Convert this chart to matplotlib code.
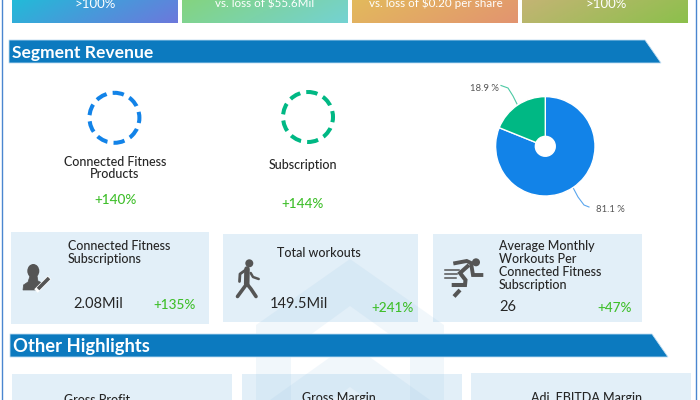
import numpy as np
import matplotlib
matplotlib.use("Agg")
import matplotlib.pyplot as plt
from matplotlib.patches import Polygon, Rectangle, Circle, Ellipse

plt.rcParams['font.family'] = ['Lato', 'DejaVu Sans']

segment_names = ["Connected Fitness Products", "Subscription"]
segment_share = [81.1, 18.9]
segment_colors = ["#1283E8", "#00B884"]
segment_labels = ["81.1 %", "18.9 %"]
top_card_text = [">100%", "vs. loss of $55.6Mil", "vs. loss of $0.20 per share", ">100%"]
top_card_colors = [("#22BBD8", "#6C78DC"), ("#84D47F", "#74D2D2"),
                   ("#E2BA5C", "#E39470"), ("#C4B474", "#8CC04C")]

INK = "#262626"; GREEN = "#3FBF2B"; BAND = "#0C7ABF"; CARD = "#E2EFF8"
PCT = 9.8

fig = plt.figure(figsize=(7, 4), dpi=100)
ax = fig.add_axes([0, 0, 1, 1])
ax.set_xlim(0, 700); ax.set_ylim(400, 0); ax.axis('off')

# frame
ax.plot([1.5, 1.5], [0, 400], color="#4A86D0", lw=1)
ax.plot([696, 696], [0, 400], color="#4A86D0", lw=1)

# top gradient cards
top_boxes = [(12, 177.5), (182, 348), (352, 518), (522, 688)]
top_text_x = [95, 265, 435.5, 606]
for (x0, x1), (c0, c1), txt, tx in zip(top_boxes, top_card_colors, top_card_text, top_text_x):
    n = 80
    u, v = np.meshgrid(np.linspace(0, 1, n), np.linspace(0, 1, 12))
    t = (0.8 * u + 0.2 * v)[..., None]
    a = np.array(matplotlib.colors.to_rgb(c0)); b = np.array(matplotlib.colors.to_rgb(c1))
    ax.imshow(a + (b - a) * t, extent=(x0, x1, 23.3, 0), aspect='auto', zorder=1)
    fs = 9.5 if txt == ">100%" else 8.4
    ax.text(tx, 3.6, txt, color="white", fontsize=fs, ha='center', va='center', zorder=2)
ax.set_xlim(0, 700); ax.set_ylim(400, 0)

# section bands
def band(x0, y0, y1, xt, xb, label, fs):
    ax.add_patch(Polygon([(x0, y0), (xt, y0), (xb, y1), (x0, y1)], closed=True,
                         fc=BAND, ec="#BFDDF2", lw=0.6, zorder=2))
    ax.text(x0 + 3, (y0 + y1) / 2 + 1.2, label, color="white", fontsize=fs,
            fontweight='bold', ha='left', va='center', zorder=3)
band(9, 40, 63, 645, 661, "Segment Revenue", 12.6)
band(10, 334, 357, 652, 668, "Other Highlights", 13.2)

# dashed rings
for cx, cy, r, col in [(114.4, 117.8, 25, segment_colors[0]), (308, 117, 25, segment_colors[1])]:
    ax.add_patch(Circle((cx, cy), r, fill=False, ec=col, lw=2.9,
                        linestyle=(0.4, (2.8, 1.53)), zorder=2))

ax.text(115, 168, "Connected Fitness\nProducts", color=INK, fontsize=9, ha='center',
        va='center', linespacing=1.05, fontweight='medium')
ax.text(303, 165, "Subscription", color=INK, fontsize=9, ha='center', va='center', fontweight='medium')
ax.text(116, 199.5, "+140%", color=GREEN, fontsize=PCT, ha='center', va='center', fontweight='medium')
ax.text(303, 203.5, "+144%", color=GREEN, fontsize=PCT, ha='center', va='center', fontweight='medium')

# metric cards
cards = [(11, 232, 209, 324), (223, 234, 418, 322), (433, 234, 642, 322),
         (12, 374, 232, 400), (241.5, 373.5, 461.5, 400), (471, 373, 691, 400)]
for x0, y0, x1, y1 in cards:
    ax.add_patch(Rectangle((x0, y0), x1 - x0, y1 - y0, fc=CARD, ec='none', zorder=1))

# watermark house
WM = "#7FB5DD"
ax.add_patch(Polygon([(256, 325), (350, 259), (444, 325), (444, 400), (410, 400), (410, 349),
                      (350, 306), (291, 349), (291, 400), (256, 400)],
                     closed=True, fc=WM, alpha=0.10, ec='none', zorder=1.2))
ax.add_patch(Polygon([(256, 410), (350, 343), (444, 410), (444, 455), (350, 387), (256, 455)],
                     closed=True, fc=WM, alpha=0.10, ec='none', zorder=1.2))

ax.text(68, 252.5, "Connected Fitness\nSubscriptions", color=INK, fontsize=9, ha='left',
        va='center', linespacing=1.1, fontweight='medium', zorder=3)
ax.text(73, 304.5, "2.08Mil", color=INK, fontsize=10.5, ha='left', va='center', zorder=3)
ax.text(153, 305, "+135%", color=GREEN, fontsize=PCT, ha='left', va='center', fontweight='medium', zorder=3)
ax.text(277, 253, "Total workouts", color=INK, fontsize=9, ha='left', va='center', fontweight='medium', zorder=3)
ax.text(270, 304.5, "149.5Mil", color=INK, fontsize=10.5, ha='left', va='center', zorder=3)
ax.text(371.5, 307.5, "+241%", color=GREEN, fontsize=PCT, ha='left', va='center', fontweight='medium', zorder=3)
ax.text(499, 265.5, "Average Monthly\nWorkouts Per\nConnected Fitness\nSubscription", color=INK,
        fontsize=9, ha='left', va='center', linespacing=1.12, fontweight='medium', zorder=3)
ax.text(499, 307, "26", color=INK, fontsize=10.5, ha='left', va='center', zorder=3)
ax.text(597.5, 307.5, "+47%", color=GREEN, fontsize=PCT, ha='left', va='center', fontweight='medium', zorder=3)

ax.text(97.5, 399.5, "Gross Profit", color=INK, fontsize=9, ha='center', va='center', fontweight='medium', zorder=3)
ax.text(339.3, 397.5, "Gross Margin", color=INK, fontsize=9, ha='center', va='center', fontweight='medium', zorder=3)
ax.text(586.3, 397.5, "Adj. EBITDA Margin", color=INK, fontsize=9, ha='center', va='center', fontweight='medium', zorder=3)

# icons
ICON = "#555555"
ax.add_patch(Ellipse((33.3, 271), 12, 14, fc=ICON, ec='none', zorder=3))
ax.add_patch(Polygon([(23, 290), (23.5, 285), (28, 282), (30, 276), (37, 276), (38, 281),
                      (42, 283), (36, 290)], closed=True, fc=ICON, ec=ICON, lw=0.5, zorder=3))
ax.plot([36, 49.5], [291, 277.5], color="white", lw=3.6, zorder=3.1, solid_capstyle='butt')
ax.plot([38, 49], [289, 278], color=ICON, lw=2.6, zorder=3.2, solid_capstyle='butt')

ax.add_patch(Circle((249.3, 263.3), 4, fc=ICON, ec='none', zorder=3))
for xs, ys, w in [([247, 246.7], [269, 284], 4.0),
                  ([246.7, 243, 237.5], [284, 289, 296.5], 2.6),
                  ([247, 251, 256], [284, 289, 296.5], 2.6),
                  ([245.5, 240, 239.5], [270, 274, 281.5], 2.0),
                  ([250.7, 253, 258.7], [273, 277, 279], 1.8)]:
    ax.plot(xs, ys, color=ICON, lw=w, zorder=3, solid_capstyle='round')

ax.add_patch(Circle((476, 262.3), 4, fc=ICON, ec='none', zorder=3))
for xs, ys, w in [([453.3, 466.7, 471, 473, 483.3], [263.5, 261, 263, 275, 275], 2.8),
                  ([469, 460, 465.5, 465, 451.7], [265, 273, 280, 285, 285], 2.9),
                  ([460, 454], [290, 296.5], 2.9)]:
    ax.plot(xs, ys, color=ICON, lw=w, zorder=3, solid_joinstyle='miter', solid_capstyle='butt')
for x0, x1, y in [(445, 459, 270), (445, 457, 274), (445, 456, 278)]:
    ax.plot([x0, x1], [y, y], color=ICON, lw=1.1, zorder=3)

# pie
cx, cy, R = 545.3, 146.3, 49.7
pie_ax = fig.add_axes([(cx - R) / 700, 1 - (cy + R) / 400, 2 * R / 700, 2 * R / 400])
pie_ax.pie(segment_share, colors=segment_colors, startangle=90, counterclock=False,
           radius=1.0, wedgeprops=dict(width=0.8, edgecolor='white', linewidth=1.0))
pie_ax.set_xlim(-1, 1); pie_ax.set_ylim(-1, 1)
pie_ax.patch.set_alpha(0)

ax.plot([573.5, 578, 584, 589], [188.5, 197, 205, 207], color="#5AA6EE", lw=0.8, zorder=3)
ax.plot([517, 513, 508, 501], [104, 96, 88, 85.5], color="#4CC9A4", lw=0.8, zorder=3)
ax.text(595.5, 209, segment_labels[0], color="#555555", fontsize=6.8, ha='left', va='center', zorder=3)
ax.text(469.5, 88.3, segment_labels[1], color="#555555", fontsize=6.8, ha='left', va='center', zorder=3)

fig.savefig("out.png", dpi=100)
